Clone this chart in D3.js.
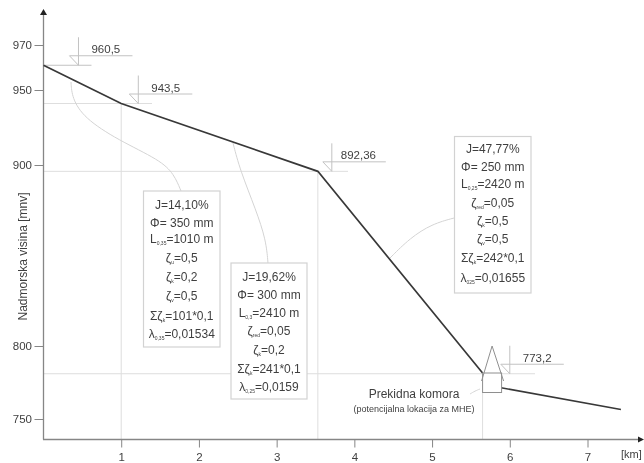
<!DOCTYPE html>
<html><head><meta charset="utf-8">
<script src="https://cdn.jsdelivr.net/npm/d3@7"></script>
<style>html,body{margin:0;padding:0;background:#fff}svg{display:block;filter:blur(0.45px)}text{font-family:"Liberation Sans",Arial,sans-serif;fill:#3f3f3f}</style>
</head><body><svg id="c" width="644" height="463"></svg>
<script>
// Data
const profileKm   = [0, 1, 3.53, 5.65];
const profileElev = [961, 941, 896.5, 781.5];
const tailKm   = [5.87, 7.43];
const tailElev = [771.6, 756.5];
const levelKm    = [0.45, 1.22, 3.71, 6.0];
const levelElev  = [961, 941, 896.5, 781];
const levelLabels = ["960,5", "943,5", "892,36", "773,2"];
const yTicks = [970, 950, 900, 800, 750];
const xTicks = [1, 2, 3, 4, 5, 6, 7];
const box1 = ["J=14,10%", "Φ= 350 mm", "L|0,35|=1010 m", "ζ|u|=0,5", "ζ|k|=0,2", "ζ|v|=0,5", "Σζ|k|=101*0,1", "λ|0,35|=0,01534"];
const box2 = ["J=19,62%", "Φ= 300 mm", "L|0,3|=2410 m", "ζ|red|=0,05", "ζ|k|=0,2", "Σζ|k|=241*0,1", "λ|0,25|=0,0159"];
const box3 = ["J=47,77%", "Φ= 250 mm", "L|0,25|=2420 m", "ζ|red|=0,05", "ζ|k|=0,5", "ζ|v|=0,5", "Σζ|k|=242*0,1", "λ|025|=0,01655"];

const svg = d3.select("#c");
const x = d3.scaleLinear().domain([0, 7]).range([43.5, 587.5]);
const y = d3.scaleLinear().domain([750, 800, 900, 950, 970]).range([419, 346, 165, 90, 45]);
const axisY = 439.5, ax = "#868686", guide = "#dedede", ink = "#383838";

// guides
const g = svg.append("g").attr("fill", "none").attr("stroke", guide).attr("stroke-width", 1);
levelElev.slice(1).forEach((e, i) => {
  const xEnd = [152, 348, 535][i];
  g.append("line").attr("x1", 43.5).attr("x2", xEnd).attr("y1", y(e)).attr("y2", y(e));
});
[profileKm[1], profileKm[2], profileKm[3]].forEach((k, i) => {
  g.append("line").attr("x1", x(k)).attr("x2", x(k)).attr("y1", y(profileElev[i + 1])).attr("y2", axisY);
});

// leader curves
const curve = d3.line().curve(d3.curveBasis);
const leaders = [
  [[71, 82], [72, 98], [84, 118], [118, 140], [160, 160], [174, 174], [181, 191]],
  [[233, 143], [240, 170], [256, 210], [266, 240], [268, 263]],
  [[390, 258], [410, 238], [432, 224], [454, 218]],
  [[470, 394], [475, 391], [480, 389]]
];
leaders.forEach(p => g.append("path").attr("d", curve(p)).attr("stroke", "#d4d4d4"));

// axes
const gx = svg.append("g").attr("transform", `translate(0,${axisY})`);
gx.call(d3.axisBottom(x).tickValues(xTicks).tickSize(8).tickSizeOuter(0).tickFormat(d3.format("d")));
gx.select(".domain").remove();
gx.selectAll("line").attr("stroke", ax).attr("stroke-width", 1);
gx.selectAll("text").attr("font-size", 11.5).attr("y", 21.5).attr("dy", 0).style("fill","#3f3f3f");
const gy = svg.append("g").attr("transform", "translate(43.5,0)");
gy.call(d3.axisLeft(y).tickValues(yTicks).tickSize(9).tickSizeOuter(0).tickFormat(d3.format("d")));
gy.select(".domain").remove();
gy.selectAll("line").attr("stroke", ax).attr("stroke-width", 1);
gy.selectAll("text").attr("font-size", 11.5).attr("x", -11.5).style("fill","#3f3f3f");
svg.append("line").attr("x1", 43.5).attr("x2", 43.5).attr("y1", 13).attr("y2", axisY).attr("stroke", ax).attr("stroke-width", 1.3);
svg.append("line").attr("x1", 43).attr("x2", 640).attr("y1", axisY).attr("y2", axisY).attr("stroke", ax).attr("stroke-width", 1.3);
svg.append("path").attr("d", "M43.5,9 L47,15 L40,15 Z").attr("fill", "#222");
svg.append("path").attr("d", "M644,439.5 L638,436.5 L638,442.5 Z").attr("fill", "#222");
svg.append("text").attr("x", 621).attr("y", 457.5).attr("font-size", 11).text("[km]");
svg.append("text").attr("transform", "translate(27,256.5) rotate(-90)").attr("text-anchor", "middle").attr("font-size", 12).text("Nadmorska visina [mnv]");

// level markers
const labelDx = [13, 13, 9, 13];
const lv = svg.append("g");
levelKm.forEach((k, i) => {
  const X = x(k), Y = y(levelElev[i]);
  const m = lv.append("g").attr("fill", "none").attr("stroke", "#c2c2c2").attr("stroke-width", 1);
  m.append("line").attr("x1", X).attr("x2", X).attr("y1", Y - 28).attr("y2", Y);
  m.append("path").attr("d", `M${X},${Y} L${X - 9},${Y - 9.5} L${X + 54},${Y - 9.5}`);
  if (i === 0) m.append("line").attr("x1", 43.5).attr("x2", X + 13).attr("y1", Y).attr("y2", Y);
  lv.append("text").attr("x", X + labelDx[i]).attr("y", Y - 12).attr("font-size", 11.5).text(levelLabels[i]);
});

// profile
const ln = d3.line().x(d => x(d[0])).y(d => y(d[1]));
svg.append("path").attr("d", ln(d3.zip(profileKm, profileElev))).attr("fill", "none").attr("stroke", ink).attr("stroke-width", 1.7);
svg.append("path").attr("d", ln(d3.zip(tailKm, tailElev))).attr("fill", "none").attr("stroke", ink).attr("stroke-width", 1.5);

// chamber
const cx = x(5.65), cy = y(781.5);
const ch = svg.append("g").attr("fill", "#fff").attr("stroke", "#8f8f8f").attr("stroke-width", 1);
ch.append("rect").attr("x", cx).attr("y", cy).attr("width", 19).attr("height", 19.5);
ch.append("path").attr("fill", "none").attr("d", `M${cx - 1},${cy + 8} L${cx + 9.5},${cy - 27} L${cx + 21},${cy + 8}`);
svg.append("text").attr("x", 414).attr("y", 398).attr("text-anchor", "middle").attr("font-size", 12).text("Prekidna komora");
svg.append("text").attr("x", 414).attr("y", 412).attr("text-anchor", "middle").attr("font-size", 9).text("(potencijalna lokacija za MHE)");

// boxes
function box(lines, X, Y, W, H, bases) {
  svg.append("rect").attr("x", X).attr("y", Y).attr("width", W).attr("height", H).attr("fill", "#fff").attr("stroke", "#d2d2d2").attr("stroke-width", 1.2);
  lines.forEach((s, i) => {
    const t = svg.append("text").attr("x", X + W / 2).attr("y", bases[i]).attr("text-anchor", "middle").attr("font-size", 12);
    const [a, sub, c] = s.split("|");
    t.append("tspan").text(a);
    if (sub !== undefined) {
      t.append("tspan").attr("font-size", 5).attr("dy", 2).text(sub);
      t.append("tspan").attr("dy", -2).text(c);
    }
  });
}
box(box1, 143.5, 191, 76.5, 156, [209, 227, 243, 262, 281, 300, 320, 338]);
box(box2, 231, 263, 76, 136, [281, 299, 317, 335, 354, 373, 391]);
box(box3, 454.5, 136.5, 76.5, 156.5, [153, 171, 188, 207, 225, 243, 262, 282]);
</script></body></html>
